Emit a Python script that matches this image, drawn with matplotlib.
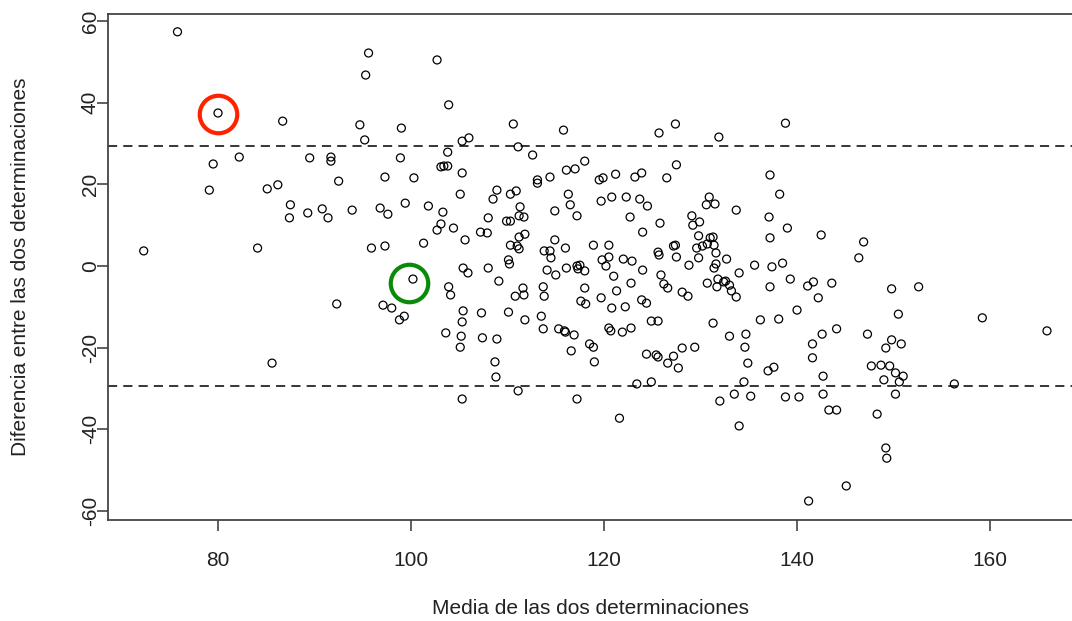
import numpy as np
import matplotlib.pyplot as plt

# Media y diferencia de las dos determinaciones (gráfico de Bland-Altman)
media = [
    75.8, 80.0, 86.7, 79.5, 82.2, 89.5, 91.7, 91.7, 92.5, 79.1,
    85.1, 86.2, 87.5, 87.4, 89.3, 90.8, 91.4, 93.9, 72.3, 84.1,
    92.3, 85.6, 95.6, 95.3, 102.7, 103.9, 94.7, 99.0, 95.2, 110.6,
    115.8, 105.3, 106.0, 111.1, 112.6, 103.8, 98.9, 97.3, 100.3, 103.1,
    103.4, 103.8, 105.3, 116.1, 117.0, 118.0, 114.4, 113.1, 125.7, 127.4,
    131.9, 138.8, 127.5, 121.2, 123.2, 123.9, 126.5, 137.2, 119.5, 119.9,
    96.8, 97.6, 99.4, 101.8, 103.3, 103.1, 102.7, 104.4, 105.1, 105.6,
    101.3, 97.3, 95.9, 100.2, 103.9, 104.1, 105.4, 105.9, 108.0, 109.1,
    97.1, 98.0, 98.8, 99.3, 105.4, 105.3, 107.3, 110.1, 103.6, 105.2,
    105.1, 107.4, 108.9, 107.2, 107.9, 108.0, 108.5, 108.9, 110.3, 110.9,
    113.1, 109.9, 110.3, 111.3, 111.2, 111.7, 114.9, 116.3, 116.5, 117.2,
    111.2, 111.8, 110.3, 111.0, 111.2, 114.9, 116.0, 113.8, 114.4, 114.5,
    110.1, 110.2, 114.1, 115.0, 116.1, 117.2, 117.5, 117.3, 118.0, 118.9,
    111.6, 111.7, 110.8, 113.7, 113.8, 118.0, 117.6, 118.1, 111.8, 113.5,
    113.7, 115.3, 115.9, 116.0, 116.9, 116.6, 118.5, 119.7, 120.8, 122.3,
    123.7, 124.5, 122.7, 125.8, 124.0, 130.9, 130.6, 131.5, 133.7, 129.1,
    129.2, 129.9, 138.2, 137.1, 139.0, 137.2, 142.5, 120.5, 119.8, 120.5,
    120.2, 122.0, 122.9, 121.0, 124.0, 125.6, 125.7, 127.2, 127.4, 127.5,
    129.8, 129.6, 130.2, 130.7, 131.0, 131.3, 131.4, 131.6, 129.8, 128.8,
    132.7, 131.6, 131.4, 134.0, 135.6, 137.4, 138.5, 122.8, 121.3, 119.7,
    125.9, 126.2, 126.6, 128.1, 128.7, 130.7, 131.8, 132.4, 132.6, 133.0,
    133.2, 133.7, 131.7, 137.2, 139.3, 141.1, 141.7, 143.6, 142.2, 140.0,
    123.9, 124.4, 120.8, 122.2, 124.9, 125.6, 131.3, 136.2, 138.1, 120.5,
    120.7, 121.9, 122.8, 133.0, 134.7, 134.6, 142.6, 144.1, 141.6, 118.9,
    124.4, 125.4, 125.6, 127.2, 128.1, 129.4, 146.9, 146.4, 149.8, 152.6,
    150.5, 159.2, 165.9, 147.3, 149.8, 150.8, 149.2, 108.7, 108.8, 119.0,
    105.3, 111.1, 117.2, 126.6, 127.7, 123.4, 124.9, 121.6, 134.9, 137.0,
    137.6, 141.6, 142.7, 134.5, 132.0, 133.5, 135.2, 138.8, 140.2, 142.7,
    143.3, 144.1, 134.0, 141.2, 147.7, 148.7, 149.6, 150.2, 151.0, 149.0,
    150.6, 156.3, 150.2, 148.3, 149.2, 149.3, 145.1,
]
diferencia = [
    57.4, 37.5, 35.5, 25.0, 26.7, 26.5, 26.7, 25.7, 20.8, 18.6,
    18.9, 19.9, 15.0, 11.8, 13.0, 14.0, 11.8, 13.7, 3.7, 4.4,
    -9.3, -23.8, 52.2, 46.8, 50.5, 39.5, 34.6, 33.8, 30.9, 34.8,
    33.3, 30.6, 31.4, 29.2, 27.2, 27.9, 26.5, 21.8, 21.6, 24.3,
    24.5, 24.5, 22.8, 23.5, 23.8, 25.7, 21.8, 21.1, 32.6, 34.8,
    31.6, 35.0, 24.8, 22.5, 21.8, 22.8, 21.6, 22.3, 21.1, 21.6,
    14.2, 12.7, 15.4, 14.7, 13.2, 10.3, 8.8, 9.3, 17.6, 6.4,
    5.6, 4.9, 4.4, -3.2, -5.1, -7.1, -0.5, -1.7, -0.5, -3.7,
    -9.6, -10.3, -13.2, -12.3, -11.0, -13.7, -11.5, -11.3, -16.4, -17.2,
    -19.9, -17.6, -17.9, 8.3, 8.1, 11.8, 16.4, 18.6, 17.6, 18.4,
    20.3, 11.0, 11.0, 14.5, 12.3, 12.0, 13.5, 17.6, 15.0, 12.3,
    7.1, 7.8, 5.1, 4.9, 4.2, 6.4, 4.4, 3.7, 3.7, 2.0,
    1.5, 0.5, -1.0, -2.2, -0.5, 0.0, 0.2, -0.7, -1.2, 5.1,
    -5.4, -7.1, -7.4, -5.1, -7.4, -5.4, -8.6, -9.3, -13.2, -12.3,
    -15.4, -15.4, -15.9, -16.2, -16.9, -20.8, -19.1, 15.9, 16.9, 16.9,
    16.4, 14.7, 12.0, 10.5, 8.3, 16.9, 15.0, 15.2, 13.7, 12.3,
    10.0, 10.8, 17.6, 12.0, 9.3, 6.9, 7.6, 5.1, 1.5, 2.2,
    0.0, 1.7, 1.2, -2.5, -1.0, 3.4, 2.7, 4.9, 5.1, 2.2,
    7.4, 4.4, 4.9, 5.4, 6.9, 7.1, 5.1, 3.2, 2.0, 0.2,
    1.7, 0.5, -0.5, -1.7, 0.2, -0.2, 0.7, -4.2, -6.1, -7.8,
    -2.2, -4.4, -5.4, -6.4, -7.4, -4.2, -3.2, -3.9, -3.7, -4.7,
    -6.1, -7.6, -5.1, -5.1, -3.2, -4.9, -3.9, -4.2, -7.8, -10.8,
    -8.3, -9.1, -10.3, -10.0, -13.5, -13.5, -14.0, -13.2, -13.0, -15.2,
    -15.9, -16.2, -15.2, -17.2, -16.7, -19.9, -16.7, -15.4, -19.1, -19.9,
    -21.6, -21.8, -22.3, -22.1, -20.1, -19.9, 5.9, 2.0, -5.6, -5.1,
    -11.8, -12.7, -15.9, -16.7, -18.1, -19.1, -20.1, -23.5, -27.2, -23.5,
    -32.6, -30.6, -32.6, -23.8, -25.0, -28.9, -28.4, -37.3, -23.8, -25.7,
    -24.8, -22.5, -27.0, -28.4, -33.1, -31.4, -31.9, -32.1, -32.1, -31.4,
    -35.3, -35.3, -39.2, -57.6, -24.5, -24.3, -24.5, -26.2, -27.0, -27.9,
    -28.4, -28.9, -31.4, -36.3, -44.6, -47.1, -53.9,
]

# limites de concordancia
lim_sup = 29.3
lim_inf = -29.3

# puntos destacados
destacado_rojo = (80.0, 37.3)
destacado_verde = (99.8, -4.1)

plt.rcParams['font.family'] = ['Liberation Sans', 'DejaVu Sans']
plt.rcParams['axes.unicode_minus'] = False

fig = plt.figure(figsize=(10.72, 6.21), dpi=100)
ax = fig.add_axes([108 / 1072, 101 / 621, 966 / 1072, 506 / 621])

ax.axhline(lim_sup, color='black', linestyle=(0, (6, 4)), linewidth=1.1, zorder=1)
ax.axhline(lim_inf, color='black', linestyle=(0, (6, 4)), linewidth=1.1, zorder=1)

ax.scatter(media, diferencia, s=33, facecolors='none', edgecolors='black',
           linewidths=0.9, zorder=2)

ax.plot(*destacado_rojo, marker='o', markersize=27, markerfacecolor='none',
        markeredgecolor='#ff2200', markeredgewidth=3.0, zorder=3)
ax.plot(*destacado_verde, marker='o', markersize=27, markerfacecolor='none',
        markeredgecolor='#0a8a0a', markeredgewidth=3.0, zorder=3)

ax.set_xlim(68.6, 168.7)
ax.set_ylim(-62.25, 61.76)
ax.set_xticks(np.arange(80, 161, 20))
ax.set_yticks(np.arange(-60, 61, 20))

for s in ['left', 'top', 'bottom']:
    ax.spines[s].set_color('#444444')
    ax.spines[s].set_linewidth(1.3)
ax.spines['right'].set_visible(False)

ax.tick_params(axis='both', direction='out', length=8, width=1.2,
               color='#444444', labelsize=15, labelcolor='#222222')
ax.tick_params(axis='x', pad=14)
ax.tick_params(axis='y', pad=-2)
for lbl in ax.get_yticklabels():
    lbl.set_rotation(90)
    lbl.set_va('center')

ax.set_xlabel('Media de las dos determinaciones', fontsize=15, color='#222222')
ax.set_ylabel('Diferencia entre las dos determinaciones', fontsize=15, color='#222222')
ax.xaxis.label.set_va('center')
ax.yaxis.label.set_va('center')
ax.xaxis.set_label_coords(0.5, (520 - 609) / 506)
ax.yaxis.set_label_coords((21 - 108) / 966, 0.5)

fig.savefig('out.png', dpi=100)
